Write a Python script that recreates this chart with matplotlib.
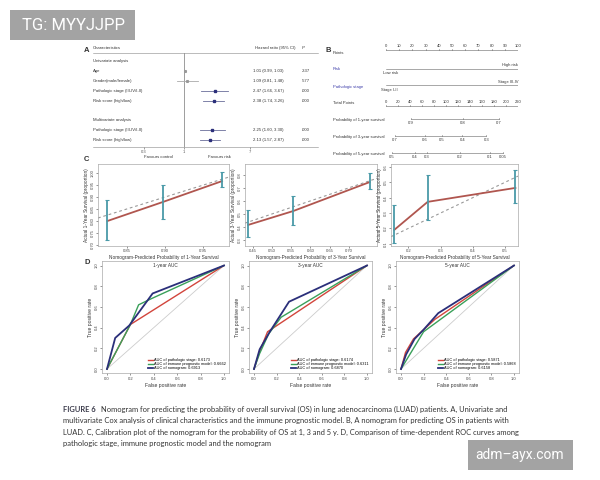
import matplotlib
matplotlib.use('Agg')
import matplotlib.pyplot as plt
import matplotlib.transforms as mtransforms
from matplotlib.patches import Rectangle
from matplotlib.lines import Line2D

# ---------------- data ----------------
# Panel A: forest plot
forest_labels = ["Univariate analysis", "Age", "Gender(male/female)",
                 "Pathologic stage (III-IV/I-II)", "Risk score (high/low)", "",
                 "Multivariate analysis", "Pathologic stage (III-IV/I-II)",
                 "Risk score (high/low)"]
forest_rows = [1, 2, 3, 4, 7, 8]
forest_hr = [1.01, 1.09, 2.47, 2.38, 2.25, 2.13]
forest_lo = [0.99, 0.81, 1.66, 1.74, 1.60, 1.57]
forest_hi = [1.03, 1.48, 3.67, 3.26, 3.30, 2.87]
forest_ci_text = ["1.01 (0.99, 1.03)", "1.09 (0.81, 1.48)", "2.47 (1.66, 3.67)",
                  "2.38 (1.74, 3.26)", "2.25 (1.60, 3.30)", "2.13 (1.57, 2.87)"]
forest_p = [".337", ".577", ".000", ".000", ".000", ".000"]
forest_ticks = [0.3, 1, 7]
forest_tick_labels = ["0.3", "1", "7"]

# Panel B: nomogram (positions in total-point units, 0-220)
points_ticks = [0, 10, 20, 30, 40, 50, 60, 70, 80, 90, 100]
total_ticks = [0, 20, 40, 60, 80, 100, 120, 140, 160, 180, 200, 220]
risk_levels = ["Low risk", "High risk"]
risk_points = [0, 100]
stage_levels = ["Stage I-II", "Stage III-IV"]
stage_points = [0, 100]
surv1_labels = ["0.9", "0.8", "0.7"]
surv1_pos = [42, 128, 188]
surv3_labels = ["0.7", "0.6", "0.5", "0.4", "0.3"]
surv3_pos = [15, 65, 93, 127, 167]
surv5_labels = ["0.5", "0.4", "0.3", "0.2", "0.1", "0.05"]
surv5_pos = [10, 48, 68, 123, 173, 195]

# Panel C: calibration
cal_years = ["1", "3", "5"]
cal1_x = [0.824, 0.897, 0.975]
cal1_y = [0.799, 0.879, 0.967]
cal1_lo = [0.719, 0.807, 0.942]
cal1_hi = [0.887, 0.950, 1.005]
cal3_x = [0.437, 0.555, 0.755]
cal3_y = [0.415, 0.522, 0.745]
cal3_lo = [0.322, 0.415, 0.692]
cal3_hi = [0.530, 0.638, 0.815]
cal5_x = [0.156, 0.260, 0.533]
cal5_y = [0.190, 0.373, 0.464]
cal5_lo = [0.105, 0.255, 0.366]
cal5_hi = [0.353, 0.549, 0.582]
cal1_xticks = [0.85, 0.90, 0.95]
cal1_yticks = [0.70, 0.75, 0.80, 0.85, 0.90, 0.95, 1.00]
cal3_xticks = [0.45, 0.50, 0.55, 0.60, 0.65, 0.70]
cal3_yticks = [0.3, 0.4, 0.5, 0.6, 0.7, 0.8]
cal5_xticks = [0.2, 0.3, 0.4, 0.5]
cal5_yticks = [0.1, 0.2, 0.3, 0.4, 0.5, 0.6]

# Panel D: ROC curves
roc_names = ["1-year AUC", "3-year AUC", "5-year AUC"]
stage_fpr = [[0, 0.20, 1], [0, 0.05, 0.12, 1], [0, 0.04, 0.11, 0.30, 1]]
stage_tpr = [[0, 0.43, 1], [0, 0.17, 0.36, 1], [0, 0.16, 0.29, 0.48, 1]]
immune_fpr = [[0, 0.20, 0.27, 0.38, 1], [0, 0.05, 0.13, 0.24, 1], [0, 0.20, 1]]
immune_tpr = [[0, 0.43, 0.62, 0.68, 1], [0, 0.15, 0.34, 0.50, 1], [0, 0.36, 1]]
nomo_fpr = [[0, 0.07, 0.19, 0.39, 1], [0, 0.05, 0.14, 0.31, 1], [0, 0.045, 0.12, 0.20, 0.33, 1]]
nomo_tpr = [[0, 0.30, 0.42, 0.73, 1], [0, 0.19, 0.36, 0.65, 1], [0, 0.14, 0.29, 0.38, 0.54, 1]]
auc_stage = ["0.6173", "0.6174", "0.5871"]
auc_immune = ["0.6662", "0.6311", "0.5868"]
auc_nomo = ["0.6913", "0.6870", "0.6158"]

caption_lines = [
    "Nomogram for predicting the probability of overall survival (OS) in lung adenocarcinoma (LUAD) patients. A, Univariate and",
    "multivariate Cox analysis of clinical characteristics and the immune prognostic model. B, A nomogram for predicting OS in patients with",
    "LUAD. C, Calibration plot of the nomogram for the probability of OS at 1, 3 and 5 y. D, Comparison of time-dependent ROC curves among",
    "pathologic stage, immune prognostic model and the nomogram",
]

# ---------------- figure ----------------
W, H = 600, 480
plt.rcParams['font.family'] = ['Liberation Sans', 'DejaVu Sans']
fig = plt.figure(figsize=(6, 4.8), dpi=100)
fig.patch.set_facecolor('white')

def fx(x):
    return x / W

def fy(y):
    return 1 - y / H

def px_axes(x0, y0, x1, y1):
    return fig.add_axes([x0 / W, 1 - y1 / H, (x1 - x0) / W, (y1 - y0) / H])

TXT = '#333333'
NAVY = '#2b2f7a'

# ---- Panel A ----
fig.text(fx(84), fy(50), "A", fontsize=5.5, fontweight='bold', color=TXT, va='center')
axF = px_axes(130, 53, 250, 147)
axF.set_xscale('log')
axF.set_xlim(0.2, 5.93)
axF.set_ylim(8.69, -0.81)
for s in axF.spines.values():
    s.set_visible(False)
axF.set_yticks([])
axF.set_xticks(forest_ticks)
axF.set_xticklabels(forest_tick_labels)
axF.minorticks_off()
axF.tick_params(axis='x', length=1.5, width=0.4, labelsize=3, pad=1, colors='#555555')
axF.axvline(1, color='#777777', lw=0.5)
for i, r in enumerate(forest_rows):
    c = NAVY if i >= 2 else '#999999'
    axF.plot([forest_lo[i], forest_hi[i]], [r, r], color='#6a6e9a' if i >= 2 else '#aaaaaa', lw=0.6)
    axF.plot(forest_hr[i], r, marker='s', ms=2.0 if i >= 2 else 1.2, color=c, mec=c)
tA = mtransforms.blended_transform_factory(fig.transFigure, axF.transData)
for i, lab in enumerate(forest_labels):
    axF.text(fx(93), i, lab, transform=tA, fontsize=3.1, va='center', ha='left', color=TXT)
for i, r in enumerate(forest_rows):
    axF.text(fx(253), r, forest_ci_text[i], transform=tA, fontsize=3.1, va='center', ha='left', color=TXT)
    axF.text(fx(302), r, forest_p[i], transform=tA, fontsize=3.1, va='center', ha='left', color=TXT)
fig.text(fx(93), fy(48), "Characteristics", fontsize=3.1, va='center', color=TXT)
fig.text(fx(255), fy(48), "Hazard ratio (95% CI)", fontsize=3.1, va='center', color=TXT)
fig.text(fx(302), fy(48), "P", fontsize=3.1, va='center', color=TXT, style='italic')
fig.add_artist(Line2D([fx(93), fx(318)], [fy(53), fy(53)], color='#888888', lw=0.4))
fig.add_artist(Line2D([fx(93), fx(318)], [fy(147), fy(147)], color='#888888', lw=0.4))
fig.text(fx(158), fy(157), "Favours control", fontsize=3.1, ha='center', va='center', color=TXT)
fig.text(fx(219), fy(157), "Favours risk", fontsize=3.1, ha='center', va='center', color=TXT)

# ---- Panel B ----
fig.text(fx(325), fy(51), "B", fontsize=5.5, fontweight='bold', color=TXT, va='center')
axB = px_axes(386, 40, 518, 162)
axB.set_xlim(0, 220)
axB.set_ylim(162, 40)
axB.axis('off')
tB = mtransforms.blended_transform_factory(fig.transFigure, axB.transData)
LC = '#666666'
FS_B = 3.0
pts_pos = [p * 2.2 for p in points_ticks]
axB.plot([pts_pos[0], pts_pos[-1]], [50, 50], color=LC, lw=0.4)
for p, lab in zip(pts_pos, points_ticks):
    axB.plot([p, p], [50, 48.5], color=LC, lw=0.4)
    axB.text(p, 46, str(lab), fontsize=FS_B, ha='center', va='center', color=TXT)
axB.text(fx(333), 53, "Points", transform=tB, fontsize=FS_B, va='center', color=TXT)
rpos = [p * 2.2 for p in risk_points]
axB.plot(rpos, [69, 69], color=LC, lw=0.4)
axB.text(rpos[1], 65, risk_levels[1], fontsize=FS_B, ha='right', va='center', color=TXT)
axB.text(rpos[0] - 5, 73, risk_levels[0], fontsize=FS_B, ha='left', va='center', color=TXT)
axB.text(fx(333), 69, "Risk", transform=tB, fontsize=FS_B, va='center', color='#3a3aa8')
spos = [p * 2.2 for p in stage_points]
axB.plot(spos, [85, 85], color=LC, lw=0.4)
axB.text(spos[1], 82, stage_levels[1], fontsize=FS_B, ha='right', va='center', color=TXT)
axB.text(spos[0] - 8, 90, stage_levels[0], fontsize=FS_B, ha='left', va='center', color=TXT)
axB.text(fx(333), 87, "Pathologic stage", transform=tB, fontsize=FS_B, va='center', color='#3a3aa8')
axB.plot([total_ticks[0], total_ticks[-1]], [106, 106], color=LC, lw=0.4)
for p in total_ticks:
    axB.plot([p, p], [106, 104.5], color=LC, lw=0.4)
    axB.text(p, 102, str(p), fontsize=FS_B, ha='center', va='center', color=TXT)
axB.text(fx(333), 103, "Total Points", transform=tB, fontsize=FS_B, va='center', color=TXT)
for name, labs, pos, yl in [("Probability of 1-year survival", surv1_labels, surv1_pos, 119),
                            ("Probability of 3-year survival", surv3_labels, surv3_pos, 136),
                            ("Probability of 5-year survival", surv5_labels, surv5_pos, 153)]:
    axB.plot([pos[0], pos[-1]], [yl, yl], color=LC, lw=0.4)
    for p, lab in zip(pos, labs):
        axB.plot([p, p], [yl, yl - 1.5], color=LC, lw=0.4)
        axB.text(p, yl + 4, lab, fontsize=FS_B, ha='center', va='center', color=TXT)
    axB.text(fx(333), yl + 1, name, transform=tB, fontsize=FS_B, va='center', color=TXT)

# ---- Panel C ----
fig.text(fx(84), fy(160), "C", fontsize=5.5, fontweight='bold', color=TXT, va='center')
cal_boxes = [(98, 164, 229, 246), (245, 164, 377, 246), (391, 164, 518, 246)]
cal_lims = [((0.8118, 0.9842), (0.694, 1.039)),
            ((0.429, 0.774), (0.253, 0.884)),
            ((0.146, 0.541), (0.085, 0.62))]
cal_data = [(cal1_x, cal1_y, cal1_lo, cal1_hi, cal1_xticks, cal1_yticks),
            (cal3_x, cal3_y, cal3_lo, cal3_hi, cal3_xticks, cal3_yticks),
            (cal5_x, cal5_y, cal5_lo, cal5_hi, cal5_xticks, cal5_yticks)]
for k in range(3):
    ax = px_axes(*cal_boxes[k])
    xs, ys, lo, hi, xt, yt = cal_data[k]
    ax.set_xlim(*cal_lims[k][0])
    ax.set_ylim(*cal_lims[k][1])
    ax.axline((0, 0), slope=1, color='#999999', lw=0.8, ls=(0, (2.5, 2.5)))
    ax.plot(xs, ys, color='#b0564f', lw=1.3, zorder=3)
    ax.errorbar(xs, ys, yerr=[[y - l for y, l in zip(ys, lo)], [h - y for y, h in zip(ys, hi)]],
                fmt='none', ecolor='#4a9aa8', elinewidth=1.3, capsize=1.5, capthick=0.8, zorder=4)
    ax.set_xticks(xt)
    ax.set_yticks(yt)
    ax.set_xticklabels([f"{v:.2f}" if k < 2 else f"{v:.1f}" for v in xt])
    ax.set_yticklabels([f"{v:.2f}" if k == 0 else f"{v:.1f}" for v in yt], rotation=90, va='center')
    ax.tick_params(labelsize=3, length=1.5, width=0.4, pad=1, colors='#444444')
    for s in ax.spines.values():
        s.set_color('#aaaaaa')
        s.set_linewidth(0.5)
    ax.set_xlabel(f"Nomogram-Predicted Probability of {cal_years[k]}-Year Survival", fontsize=3.4, labelpad=1, color=TXT)
    ax.set_ylabel(f"Actual {cal_years[k]}-Year Survival (proportion)", fontsize=3.4, labelpad=1, color=TXT)

# ---- Panel D ----
fig.text(fx(84), fy(262), "D", fontsize=5.5, fontweight='bold', color=TXT, va='center')
roc_x = [(107, 224), (254, 367), (401, 514)]
roc_y0, roc_y1 = 369, 265.5
RED, GREEN = '#d2453c', '#3aa05a'
for k in range(3):
    x0, x1 = roc_x[k]
    sx = (x1 - x0)
    sy = (roc_y0 - roc_y1)
    ax = px_axes(x0 - 0.04 * sx, roc_y1 - 0.04 * sy, x1 + 0.04 * sx, roc_y0 + 0.04 * sy)
    ax.set_xlim(-0.04, 1.04)
    ax.set_ylim(-0.04, 1.04)
    ax.plot([0, 1], [0, 1], color='#cccccc', lw=0.6)
    ax.plot(stage_fpr[k], stage_tpr[k], color=RED, lw=1.0, label=f"AUC of pathologic stage: {auc_stage[k]}")
    ax.plot(immune_fpr[k], immune_tpr[k], color=GREEN, lw=1.0, label=f"AUC of immune prognostic model: {auc_immune[k]}")
    ax.plot(nomo_fpr[k], nomo_tpr[k], color=NAVY, lw=1.3, label=f"AUC of nomogram: {auc_nomo[k]}")
    ax.set_xticks([0, 0.2, 0.4, 0.6, 0.8, 1.0])
    ax.set_yticks([0, 0.2, 0.4, 0.6, 0.8, 1.0])
    ax.set_xticklabels(["0.0", "0.2", "0.4", "0.6", "0.8", "1.0"])
    ax.set_yticklabels(["0.0", "0.2", "0.4", "0.6", "0.8", "1.0"], rotation=90, va='center')
    ax.tick_params(labelsize=3, length=1.5, width=0.4, pad=1, colors='#444444')
    for s in ax.spines.values():
        s.set_color('#aaaaaa')
        s.set_linewidth(0.5)
    ax.set_xlabel("False positive rate", fontsize=3.6, labelpad=1.5, color=TXT)
    ax.set_ylabel("True positive rate", fontsize=3.6, labelpad=1.5, color=TXT)
    ax.text(0.5, 0.965, roc_names[k], transform=ax.transAxes, fontsize=3.4, ha='center', va='center', color=TXT)
    ax.legend(loc='lower right', fontsize=2.8, frameon=False, handlelength=1.2, handletextpad=0.4,
              labelspacing=0.05, borderaxespad=0.3)

# ---- caption ----
cap_y = [409, 420.5, 432, 443.5]
CAPF = ['Lato', 'DejaVu Sans']
fig.text(fx(63), fy(cap_y[0]), "FIGURE 6", fontsize=5.4, fontweight='bold', color='#3a3a4a',
         va='center', family=CAPF)
fig.text(fx(101), fy(cap_y[0]), caption_lines[0], fontsize=5.45, color='#333333', va='center', family=CAPF)
for yy, line in zip(cap_y[1:], caption_lines[1:]):
    fig.text(fx(63), fy(yy), line, fontsize=5.45, color='#333333', va='center', family=CAPF)

# ---- watermarks ----
fig.add_artist(Rectangle((fx(10), fy(40)), 125 / W, 30 / H, transform=fig.transFigure,
                         facecolor='#a3a3a3', edgecolor='none'))
fig.text(fx(73), fy(25), "TG: MYYJJPP", fontsize=12, color='white', ha='center', va='center',
         family=['Roboto', 'DejaVu Sans'])
fig.add_artist(Rectangle((fx(468), fy(470)), 105 / W, 30 / H, transform=fig.transFigure,
                         facecolor='#a3a3a3', edgecolor='none'))
fig.text(fx(520), fy(455), "adm\u2013ayx.com", fontsize=10, color='white', ha='center', va='center',
         family=['Roboto', 'DejaVu Sans'])

fig.savefig('out.png', dpi=100, facecolor='white')
